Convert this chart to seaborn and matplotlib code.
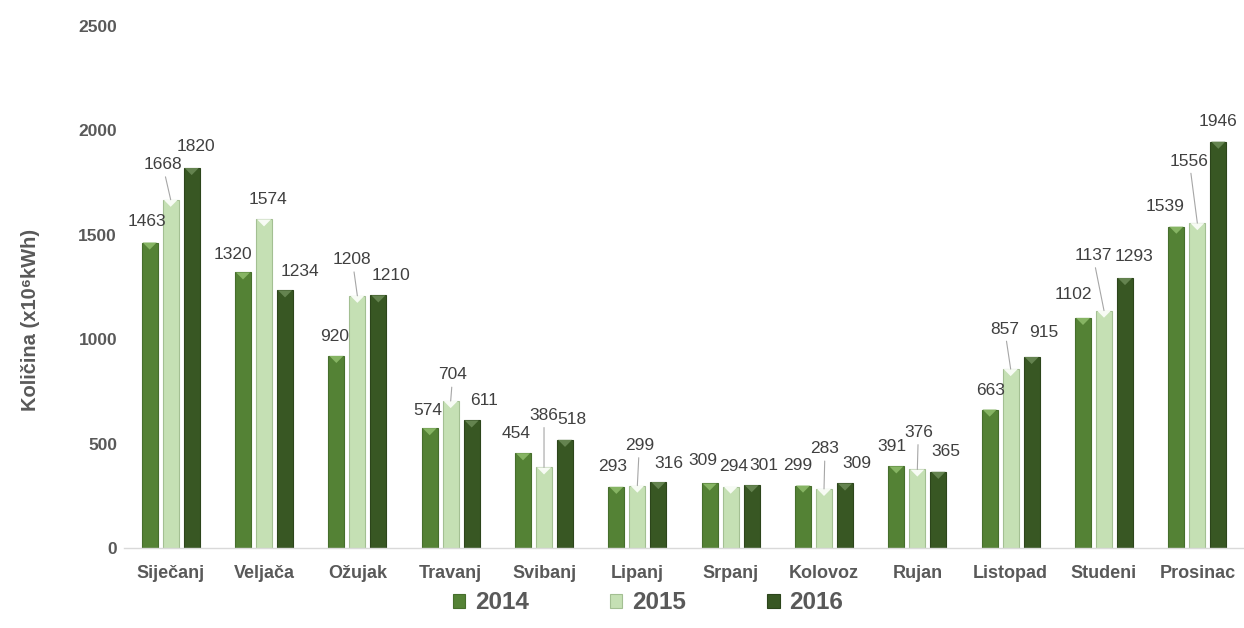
import matplotlib
matplotlib.use('Agg')
import matplotlib.pyplot as plt
from matplotlib.patches import Polygon
import seaborn as sns
import pandas as pd

# monthly quantities (x10^6 kWh)
months = ['Siječanj', 'Veljača', 'Ožujak', 'Travanj', 'Svibanj', 'Lipanj',
          'Srpanj', 'Kolovoz', 'Rujan', 'Listopad', 'Studeni', 'Prosinac']
years = ['2014', '2015', '2016']
v2014 = [1463, 1320, 920, 574, 454, 293, 309, 299, 391, 663, 1102, 1539]
v2015 = [1668, 1574, 1208, 704, 386, 299, 294, 283, 376, 857, 1137, 1556]
v2016 = [1820, 1234, 1210, 611, 518, 316, 301, 309, 365, 915, 1293, 1946]

# label nudges (pixels) so the numbers don't collide, like in the original
dx = {'2014': [-3, -10, -2, -2, -7, -4, -7, -5, -4, 1, -10, -11],
      '2015': [-8, 4, -5, 2, 0, 2, 3, 1, 1, -6, -11, -8],
      '2016': [4, 15, 13, 12, 7, 11, 12, 12, 8, 12, 9, 0]}
dy = {'2014': [21, 18, 19, 18, 20, 20, 23, 20, 20, 19, 23, 20],
      '2015': [35, 20, 36, 26, 52, 40, 20, 40, 37, 40, 55, 62],
      '2016': [21, 19, 20, 20, 20, 19, 20, 20, 20, 24, 22, 20]}

colors = {'2014': '#548235', '2015': '#c5e0b4', '2016': '#385723'}
edges = {'2014': '#466e2c', '2015': '#a3bf92', '2016': '#2c451b'}
tops = {'2014': '#86b463', '2015': '#f7fbf4', '2016': '#64834f'}

df = pd.DataFrame({
    'mjesec': months * 3,
    'godina': [y for y in years for _ in months],
    'kolicina': v2014 + v2015 + v2016,
})

sns.set_style('white')
plt.rcParams['font.family'] = ['Liberation Sans', 'DejaVu Sans']

fig = plt.figure(figsize=(12.44, 6.28), dpi=100)
ax = fig.add_axes([0.0997, 0.1274, 0.9003, 0.8312])

sns.barplot(data=df, x='mjesec', y='kolicina', hue='godina', order=months,
            hue_order=years, palette=colors, width=0.675, gap=0.24,
            saturation=1, legend=False, ax=ax)

grey = '#595959'
for yr, cont in zip(years, ax.containers):
    for i, bar in enumerate(cont):
        bar.set_edgecolor(edges[yr])
        bar.set_linewidth(0.8)
        x0 = bar.get_x()
        w = bar.get_width()
        h = bar.get_height()
        tri = Polygon([(x0 + 0.01, h), (x0 + w - 0.01, h), (x0 + w / 2, h - 34)],
                      closed=True, facecolor=tops[yr], edgecolor='none', zorder=3)
        ax.add_patch(tri)
        off = (dx[yr][i], dy[yr][i])
        arrow = None
        if off[1] >= 25:
            arrow = dict(arrowstyle='-', color='#a6a6a6', lw=0.8, shrinkA=1, shrinkB=0)
        ax.annotate(str(int(h)), xy=(x0 + w / 2, h), xytext=off,
                    textcoords='offset pixels', ha='center', va='center',
                    fontsize=12.5, color='#404040', arrowprops=arrow)

ax.set_xlim(-0.5, 11.5)
ax.set_ylim(0, 2500)
ax.set_yticks([0, 500, 1000, 1500, 2000, 2500])
ax.tick_params(axis='both', length=0)
ax.tick_params(axis='y', pad=5)
ax.tick_params(axis='x', pad=12)
for lab in ax.get_xticklabels():
    lab.set_fontweight('bold')
    lab.set_color(grey)
    lab.set_fontsize(13)
for lab in ax.get_yticklabels():
    lab.set_fontweight('bold')
    lab.set_color(grey)
    lab.set_fontsize(12.5)

ax.set_xlabel('')
ax.set_ylabel('Količina (x10⁶kWh)', fontsize=14.5, fontweight='bold', color=grey)
ax.yaxis.set_label_coords(-0.075, 0.437)

for s in ['top', 'right', 'left']:
    ax.spines[s].set_visible(False)
ax.spines['bottom'].set_color('#d9d9d9')
ax.spines['bottom'].set_linewidth(1)

handles = [plt.Rectangle((0, 0), 1, 1, facecolor=colors[y], edgecolor=edges[y], lw=0.8)
           for y in years]
leg = fig.legend(handles, years, loc='center', bbox_to_anchor=(0.521, 0.04), ncol=3,
                 frameon=False, handlelength=0.5, handleheight=0.5, handletextpad=0.4,
                 columnspacing=3.35, prop={'weight': 'bold', 'size': 17.5})
for t in leg.get_texts():
    t.set_color(grey)

fig.savefig('out.png', dpi=100)
